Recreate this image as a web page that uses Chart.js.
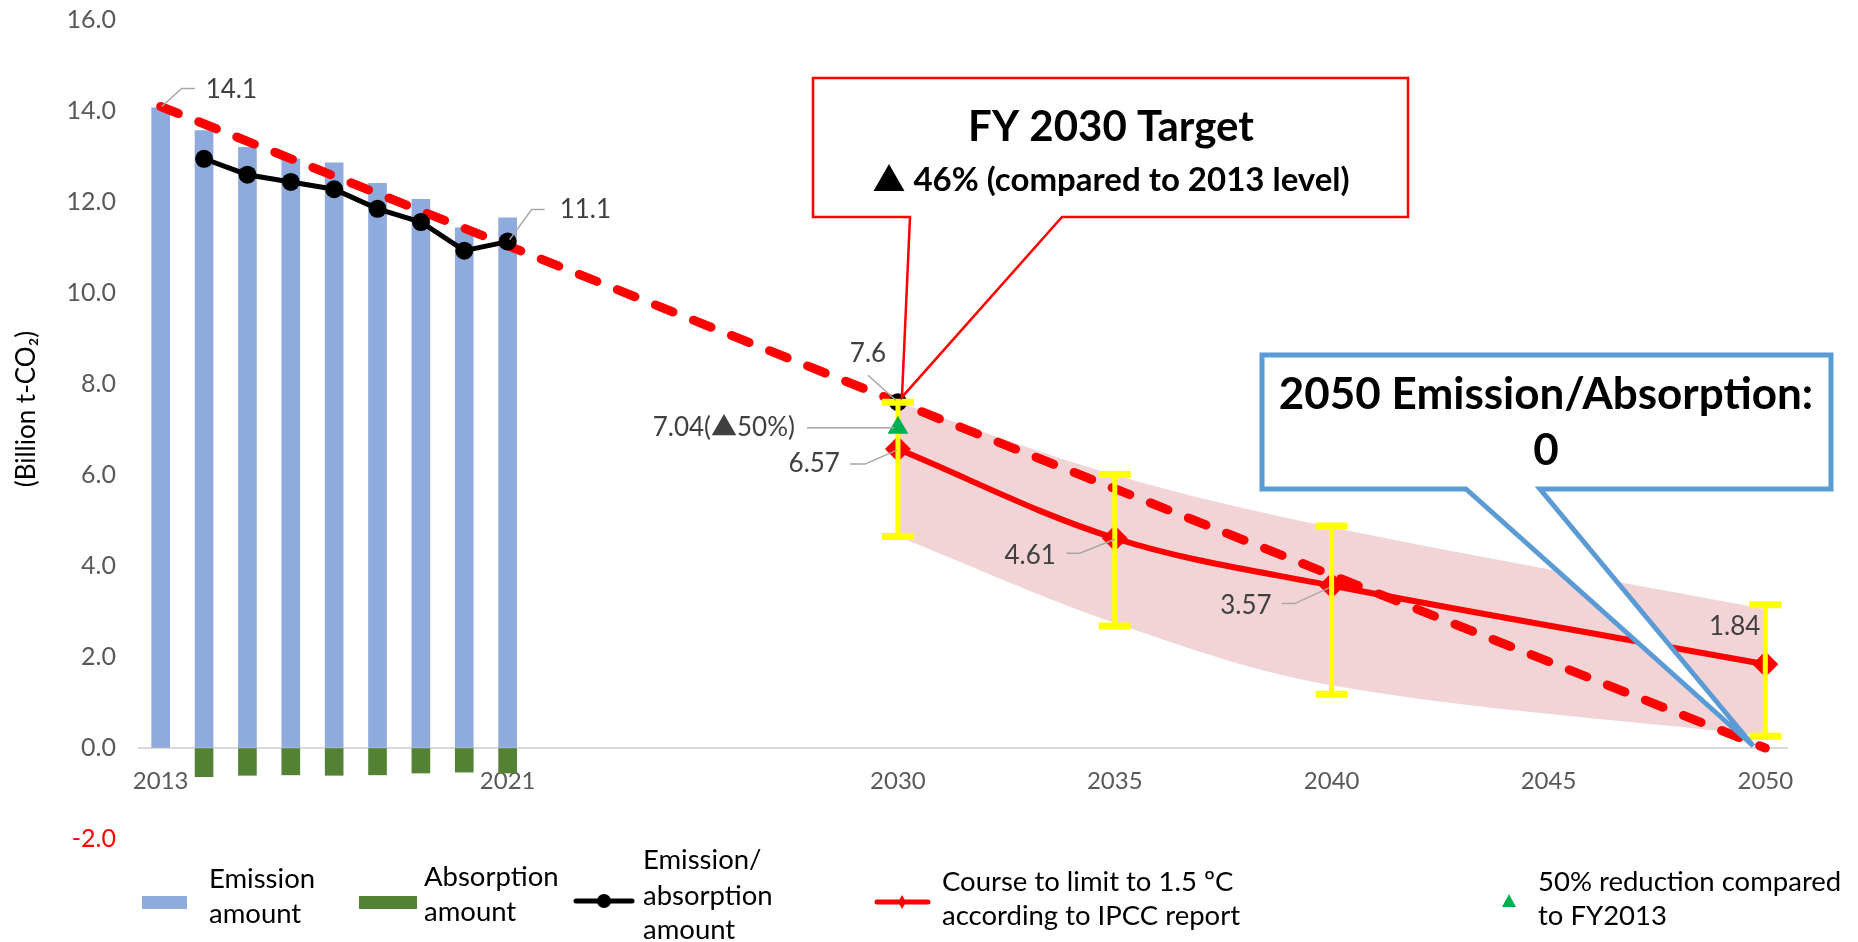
<!DOCTYPE html>
<html><head><meta charset="utf-8">
<script src="https://cdn.jsdelivr.net/npm/chart.js@4"></script>
<style>html,body{margin:0;padding:0;background:#fff;overflow:hidden}#c{display:block}</style>
</head><body>
<canvas id="c" width="1858" height="942"></canvas>
<script>
// ---------------- data ----------------
const histYears = [2013, 2014, 2015, 2016, 2017, 2018, 2019, 2020, 2021];
const emission = [14.07, 13.57, 13.20, 12.95, 12.86, 12.41, 12.06, 11.43, 11.65];
const absYears = [2014, 2015, 2016, 2017, 2018, 2019, 2020, 2021];
const absorption = [-0.63, -0.60, -0.59, -0.60, -0.59, -0.55, -0.53, -0.55];
const netYears = [2014, 2015, 2016, 2017, 2018, 2019, 2020, 2021];
const netValues = [12.95, 12.60, 12.44, 12.28, 11.85, 11.56, 10.93, 11.13];
const targetYears = [2030];
const targetValues = [7.6];
const pathYears = [2013, 2030, 2050];
const pathValues = [14.1, 7.6, 0];
const ipccYears = [2030, 2035, 2040, 2050];
const ipccValues = [6.57, 4.61, 3.57, 1.84];
const ipccLow = [4.65, 2.68, 1.18, 0.26];
const ipccHigh = [7.60, 6.01, 4.88, 3.15];
const bandUpper = [7.60, 6.00, 4.85, 3.05];
const bandLower = [4.65, 2.75, 1.38, 0.26];
const halfYears = [2030];
const halfValues = [7.04];
const xTickYears = [2013, 2021, 2030, 2035, 2040, 2045, 2050];
const labelYears = [2013, 2021, 2030, 2030, 2030, 2035, 2040, 2050];
const labelValues = [14.1, 11.13, 7.6, 7.04, 6.57, 4.61, 3.57, 1.84];
const labelTexts = ['14.1', '11.1', '7.6', '7.04(▲50%)', '6.57', '4.61', '3.57', '1.84'];
const legendTexts = [
  ['Emission', 'amount'],
  ['Absorption', 'amount'],
  ['Emission/', 'absorption', 'amount'],
  ['Course to limit to 1.5 ºC', 'according to IPCC report'],
  ['50% reduction compared', 'to FY2013']
];
const calloutRedTexts = ['FY 2030 Target', '▲ 46% (compared to 2013 level)'];
const calloutBlueTexts = ['2050 Emission/Absorption:', '0'];
const yAxisTitle = '(Billion t-CO₂)';

// ---------------- styling / layout ----------------
const FONT = "Lato, 'Noto Sans CJK JP', 'DejaVu Sans', sans-serif";
const pts = (xs, ys) => xs.map((x, i) => ({x, y: ys[i]}));

// label placement relative to its data point
const labelLayout = [
  {dx: 45, dy: -17, align: 'left', leader: [[1, 0], [21, -18], [34, -18]]},
  {dx: 52, dy: -32, align: 'left', leader: [[2, -2], [24, -32], [37, -32]]},
  {dx: -30, dy: -49, align: 'center', leader: [[-30, -27], [-2, -2]]},
  {dx: -103, dy: 0, align: 'right', leader: [[-91, 0], [-4, 0]]},
  {dx: -58, dy: 15, align: 'right', leader: [[-48, 15], [-33, 15], [-1, 1]]},
  {dx: -59, dy: 17, align: 'right', leader: [[-48, 15], [-35, 15], [0, 1]]},
  {dx: -60, dy: 20, align: 'right', leader: [[-50, 18], [-37, 18], [-2, 2]]},
  {dx: -5, dy: -38, align: 'right', leader: null}
];

const overlayPlugin = {
  id: 'overlay',
  afterDatasetDraw(chart, args) {
    if (args.meta.label !== 'Course to limit to 1.5 ºC according to IPCC report') return;
    const {ctx, scales: {x, y}} = chart;
    ctx.save();
    ctx.strokeStyle = '#FFFF00';
    ipccYears.forEach((yr, i) => {
      const px = x.getPixelForValue(yr);
      const lo = y.getPixelForValue(ipccLow[i]);
      const hi = y.getPixelForValue(ipccHigh[i]);
      ctx.lineWidth = 5;
      ctx.beginPath(); ctx.moveTo(px, lo); ctx.lineTo(px, hi); ctx.stroke();
      ctx.lineWidth = 7;
      ctx.beginPath(); ctx.moveTo(px - 16, lo); ctx.lineTo(px + 16, lo); ctx.stroke();
      ctx.beginPath(); ctx.moveTo(px - 16, hi); ctx.lineTo(px + 16, hi); ctx.stroke();
    });
    ctx.restore();
  },
  afterDraw(chart) {
    const {ctx, scales: {x, y}} = chart;
    ctx.save();
    // y-axis title
    ctx.save();
    ctx.translate(27, 409);
    ctx.rotate(-Math.PI / 2);
    ctx.font = `26px ${FONT}`;
    ctx.fillStyle = '#000'; ctx.textAlign = 'center'; ctx.textBaseline = 'middle';
    ctx.fillText(yAxisTitle, 0, 0);
    ctx.restore();

    // data labels
    ctx.font = `26px ${FONT}`;
    ctx.textBaseline = 'middle';
    labelTexts.forEach((t, i) => {
      const L = labelLayout[i];
      const px = x.getPixelForValue(labelYears[i]);
      const py = y.getPixelForValue(labelValues[i]);
      if (L.leader) {
        ctx.strokeStyle = '#A6A6A6'; ctx.lineWidth = 1.5;
        ctx.beginPath();
        L.leader.forEach((p, k) => k ? ctx.lineTo(px + p[0], py + p[1]) : ctx.moveTo(px + p[0], py + p[1]));
        ctx.stroke();
      }
      ctx.fillStyle = '#404040';
      ctx.textAlign = L.align;
      ctx.fillText(t, px + L.dx, py + L.dy);
    });

    // callouts
    const drawCallout = (box, b1, b2, tip, color, lw) => {
      ctx.beginPath();
      ctx.moveTo(box.l, box.t); ctx.lineTo(box.r, box.t); ctx.lineTo(box.r, box.b);
      ctx.lineTo(b2, box.b); ctx.lineTo(tip.x, tip.y); ctx.lineTo(b1, box.b);
      ctx.lineTo(box.l, box.b); ctx.closePath();
      ctx.fillStyle = '#fff'; ctx.fill();
      ctx.strokeStyle = color; ctx.lineWidth = lw; ctx.lineJoin = 'miter'; ctx.miterLimit = 3;
      ctx.stroke();
    };
    const redTip = {x: x.getPixelForValue(targetYears[0]) + 4, y: y.getPixelForValue(targetValues[0]) - 5};
    drawCallout({l: 813, t: 78, r: 1408, b: 217}, 910, 1062, redTip, '#FF0000', 2.5);
    const blueTip = {x: x.getPixelForValue(pathYears[2]) - 12, y: y.getPixelForValue(pathValues[2]) - 2};
    drawCallout({l: 1262, t: 355, r: 1831, b: 489}, 1466, 1540, blueTip, '#5B9BD5', 5);
    ctx.fillStyle = '#000'; ctx.textAlign = 'center'; ctx.textBaseline = 'middle';
    ctx.font = `bold 42px ${FONT}`;
    ctx.fillText(calloutRedTexts[0], 1111, 127);
    ctx.font = `bold 33px ${FONT}`;
    ctx.fillText(calloutRedTexts[1], 1111, 180);
    ctx.font = `bold 44px ${FONT}`;
    ctx.fillText(calloutBlueTexts[0], 1546, 395);
    ctx.fillText(calloutBlueTexts[1], 1546, 451);

    // legend
    ctx.textAlign = 'left';
    ctx.font = `27.5px ${FONT}`;
    ctx.fillStyle = '#8FAADC'; ctx.fillRect(142, 896, 45, 13);
    ctx.fillStyle = '#548235'; ctx.fillRect(359, 896, 58, 13);
    ctx.strokeStyle = '#000'; ctx.lineWidth = 5; ctx.lineCap = 'round';
    ctx.beginPath(); ctx.moveTo(576, 901); ctx.lineTo(632, 901); ctx.stroke();
    ctx.fillStyle = '#000'; ctx.beginPath(); ctx.arc(604, 901, 7, 0, Math.PI * 2); ctx.fill();
    ctx.strokeStyle = '#FF0000';
    ctx.beginPath(); ctx.moveTo(877, 902); ctx.lineTo(928, 902); ctx.stroke();
    ctx.fillStyle = '#FF0000';
    ctx.beginPath(); ctx.moveTo(902, 895); ctx.lineTo(906, 902); ctx.lineTo(902, 909); ctx.lineTo(898, 902); ctx.closePath(); ctx.fill();
    ctx.fillStyle = '#00B050';
    ctx.beginPath(); ctx.moveTo(1509, 894); ctx.lineTo(1516, 907); ctx.lineTo(1502, 907); ctx.closePath(); ctx.fill();
    const legendPos = [[209, [879, 914]], [424, [877, 912]], [643, [860, 896, 930]], [942, [882, 916]], [1538, [882, 916]]];
    ctx.fillStyle = '#000';
    legendTexts.forEach((lines, i) => {
      lines.forEach((ln, k) => ctx.fillText(ln, legendPos[i][0], legendPos[i][1][k]));
    });
    ctx.restore();
  }
};

Chart.defaults.font.family = FONT;
new Chart(document.getElementById('c'), {
  type: 'line',
  data: {
    datasets: [
      {label: 'band upper', data: pts(ipccYears, bandUpper), borderWidth: 0, pointRadius: 0, tension: 0.35,
       fill: '+1', backgroundColor: '#F2D4D7', order: 20},
      {label: 'band lower', data: pts(ipccYears, bandLower), borderWidth: 0, pointRadius: 0, tension: 0.35,
       fill: false, order: 20},
      {type: 'bar', label: 'Emission amount', data: pts(histYears, emission), backgroundColor: '#8FAADC',
       barThickness: 18, grouped: false, order: 15},
      {type: 'bar', label: 'Absorption amount', data: pts(absYears, absorption), backgroundColor: '#548235',
       barThickness: 18, grouped: false, order: 15},
      {label: 'target path', data: pts(pathYears, pathValues), borderColor: '#FF0000', borderWidth: 9,
       borderDash: [19, 22], borderCapStyle: 'round', pointRadius: 0, tension: 0, fill: false, order: 10},
      {label: 'Emission/absorption amount', data: pts(netYears, netValues), borderColor: '#000', backgroundColor: '#000',
       borderWidth: 5, pointRadius: 9, pointBorderWidth: 0, tension: 0, fill: false, order: 8},
      {label: 'FY2030 target', data: pts(targetYears, targetValues), borderColor: '#000', backgroundColor: '#000',
       showLine: false, pointRadius: 9, pointBorderWidth: 0, order: 8},
      {label: 'Course to limit to 1.5 ºC according to IPCC report', data: pts(ipccYears, ipccValues),
       borderColor: '#FF0000', backgroundColor: '#FF0000', borderWidth: 6, pointStyle: 'rectRot', pointRadius: 13,
       pointBorderWidth: 0, tension: 0.35, fill: false, order: 6},
      {label: '50% reduction compared to FY2013', data: pts(halfYears, halfValues), showLine: false,
       pointStyle: 'triangle', pointRadius: 12, backgroundColor: '#00B050', borderColor: '#00B050', pointBorderWidth: 0, order: 1}
    ]
  },
  options: {
    responsive: false,
    animation: false,
    events: [],
    layout: {padding: {left: 0, right: 71, top: 20, bottom: 103}},
    plugins: {legend: {display: false}, tooltip: {enabled: false}, filler: {drawTime: 'beforeDatasetsDraw'}},
    scales: {
      x: {
        type: 'linear', min: 2012.5, max: 2050.5, position: {y: 0}, offset: false,
        grid: {display: false, drawTicks: false},
        border: {display: true, color: '#D9D9D9', width: 2},
        afterBuildTicks: s => { s.ticks = xTickYears.map(v => ({value: v})); },
        ticks: {color: '#595959', font: {size: 24}, padding: 19, autoSkip: false, maxRotation: 0,
                callback: v => String(v)}
      },
      y: {
        min: -2, max: 16,
        grid: {display: true, drawOnChartArea: false, drawTicks: true, tickLength: 18, color: 'rgba(0,0,0,0)'},
        border: {display: false},
        ticks: {stepSize: 2, color: c => (c.tick && c.tick.value < 0) ? '#FF0000' : '#595959',
                font: {size: 25}, padding: 5, callback: v => Number(v).toFixed(1)},
        title: {display: false},
        afterFit: s => { s.width = 139; }
      }
    }
  },
  plugins: [overlayPlugin]
});
</script>
</body></html>
